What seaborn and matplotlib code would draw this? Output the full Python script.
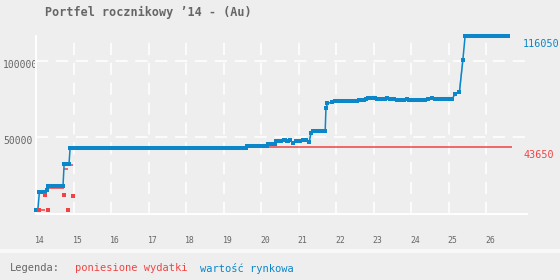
import numpy as np
import pandas as pd
import matplotlib
matplotlib.use("Agg")
import matplotlib.pyplot as plt
import matplotlib.transforms as mtransforms
from matplotlib.patches import Rectangle
import seaborn as sns

# ---------------- data ----------------
title = "Portfel rocznikowy \u201914 - (Au)"
legend_title = "Legenda:"
legend_red = "poniesione wydatki"
legend_blue = "warto\u015b\u0107 rynkowa"

# market value: plateaus (start, end, value)
blue_start = [14.00, 14.09, 14.29, 14.33, 14.75, 14.91, 19.63, 20.19, 20.40, 20.52,
              20.60, 20.69, 20.77, 20.86, 20.93, 21.11, 21.20, 21.28, 21.33, 21.38,
              21.73, 21.77, 21.88, 21.97, 22.03, 22.62, 22.80, 22.86, 23.10, 23.17,
              23.37, 23.44, 23.62, 23.80, 23.88, 23.95, 24.46, 24.55, 24.64, 25.17,
              25.29, 25.38, 25.44]
blue_end = [14.05, 14.25, 14.29, 14.72, 14.88, 19.60, 20.15, 20.37, 20.49, 20.52,
            20.65, 20.73, 20.77, 20.86, 21.04, 21.11, 21.20, 21.28, 21.33, 21.71,
            21.73, 21.77, 21.88, 21.97, 22.55, 22.75, 22.80, 23.04, 23.10, 23.31,
            23.37, 23.55, 23.73, 23.80, 23.88, 24.37, 24.46, 24.55, 25.09, 25.17,
            25.29, 25.38, 26.58]
blue_value = [2800, 14300, 15600, 18250, 32600, 43300, 44200, 45400, 47400, 47400,
              48000, 47400, 48200, 46100, 47400, 48000, 48000, 46700, 52600, 54300,
              68900, 72200, 72800, 73900, 73500, 74300, 75000, 75400, 74800, 74800,
              75400, 74800, 74100, 74100, 74800, 74100, 74800, 75400, 74800, 78200,
              79800, 100400, 116050]

# expenses: purchase dates and amounts
red_dates = [14.08, 14.25, 14.33, 14.75, 14.85, 14.99]
red_amounts = [2600, 12200, 2400, 12300, 2600, 11550]
red_last_date = 26.69

x_ticks = [14, 15, 16, 17, 18, 19, 20, 21, 22, 23, 24, 25, 26]
y_ticks = [50000, 100000]
y_max = 116050
x_range = (14.0, 27.09)

# ---------------- style ----------------
BG = "#eeeeee"
BLUE = "#0a86c9"
RED = "#f04444"
GRAY = "#666666"
MONO = ["DejaVu Sans Mono"]

sns.set_theme(style="white")
plt.rcParams["font.family"] = MONO
plt.rcParams["figure.facecolor"] = BG
plt.rcParams["axes.facecolor"] = BG

W, H = 560, 280
fig = plt.figure(figsize=(W / 100, H / 100), dpi=100)
ax = fig.add_axes([36 / W, 1 - 214 / H, (527 - 36) / W, (214 - 36) / H])
ax.set_facecolor(BG)

# legend strip
fig.patches.append(Rectangle((0, 1 - 253 / H), 1, 4 / H, transform=fig.transFigure,
                             facecolor="#f8f8f8", edgecolor="none", zorder=0))

# grid
ax.set_axisbelow(True)
ax.grid(True, color="white", linewidth=1.1, linestyle=(0, (8, 5)))
for s in ["top", "right"]:
    ax.spines[s].set_visible(False)
for s in ["left", "bottom"]:
    ax.spines[s].set_color("white")
    ax.spines[s].set_linewidth(1.4)

# red cumulative expenses (horizontal segments)
red_cum = np.cumsum(red_amounts)
seg_end = red_dates[1:] + [red_last_date]
ax.hlines(red_cum, red_dates, seg_end, color=RED, linewidth=1.1, zorder=2)

# blue market value
px, py = [], []
for s_, e_, v_ in zip(blue_start, blue_end, blue_value):
    px += [s_, e_]
    py += [v_, v_]
df_blue = pd.DataFrame({"x": px, "y": py})
sns.lineplot(data=df_blue, x="x", y="y", sort=False, ax=ax, color=BLUE,
             linewidth=1.1, marker="s", markersize=3.2, markeredgewidth=0,
             zorder=3, clip_on=False)
ax.hlines(blue_value, blue_start, blue_end, color=BLUE, linewidth=2.9, zorder=3,
          clip_on=False)

# red expense points
df_red = pd.DataFrame({"x": red_dates, "y": red_amounts})
sns.scatterplot(data=df_red, x="x", y="y", ax=ax, color=RED, marker="s", s=9,
                linewidth=0, zorder=4)

ax.set_xlim(*x_range)
ax.set_ylim(0, y_max)
ax.set_xticks(x_ticks)
ax.set_xticklabels([str(t) for t in x_ticks])
ax.set_yticks(y_ticks)
ax.set_yticklabels([str(t) for t in y_ticks])
ax.set_xlabel("")
ax.set_ylabel("")
ax.tick_params(axis="both", length=0)
ax.tick_params(axis="x", pad=16, labelsize=5.9, labelcolor=GRAY)
ax.tick_params(axis="y", pad=23.8, labelsize=7, labelcolor=GRAY)
for lbl in ax.get_yticklabels():
    lbl.set_horizontalalignment("left")
    lbl.set_transform(lbl.get_transform() +
                      mtransforms.ScaledTranslation(0, -3 / 100, fig.dpi_scale_trans))
for lbl in ax.get_xticklabels():
    lbl.set_transform(lbl.get_transform() +
                      mtransforms.ScaledTranslation(4 / 100, 0, fig.dpi_scale_trans))

# end value labels
ax.annotate(str(blue_value[-1]), xy=(1.0, blue_value[-1]),
            xycoords=("axes fraction", "data"), xytext=(-4, -3),
            textcoords="offset pixels", ha="left", va="top", color=BLUE,
            fontsize=7.3, annotation_clip=False)
ax.annotate(str(int(red_cum[-1])), xy=(1.0, red_cum[-1]),
            xycoords=("axes fraction", "data"), xytext=(-4, -3),
            textcoords="offset pixels", ha="left", va="top", color=RED,
            fontsize=7.3, annotation_clip=False)

# title and legend texts
fig.text(45 / W, 1 - 12 / H, title, ha="left", va="center", fontsize=8.5,
         fontweight="bold", color=GRAY)
fig.text(10 / W, 1 - 268 / H, legend_title, ha="left", va="center",
         fontsize=7.5, color=GRAY)
fig.text(75 / W, 1 - 268 / H, legend_red, ha="left", va="center",
         fontsize=7.5, color=RED)
fig.text(200 / W, 1 - 268 / H, legend_blue, ha="left", va="center",
         fontsize=7.5, color=BLUE)

fig.savefig("out.png", dpi=100, facecolor=BG)
